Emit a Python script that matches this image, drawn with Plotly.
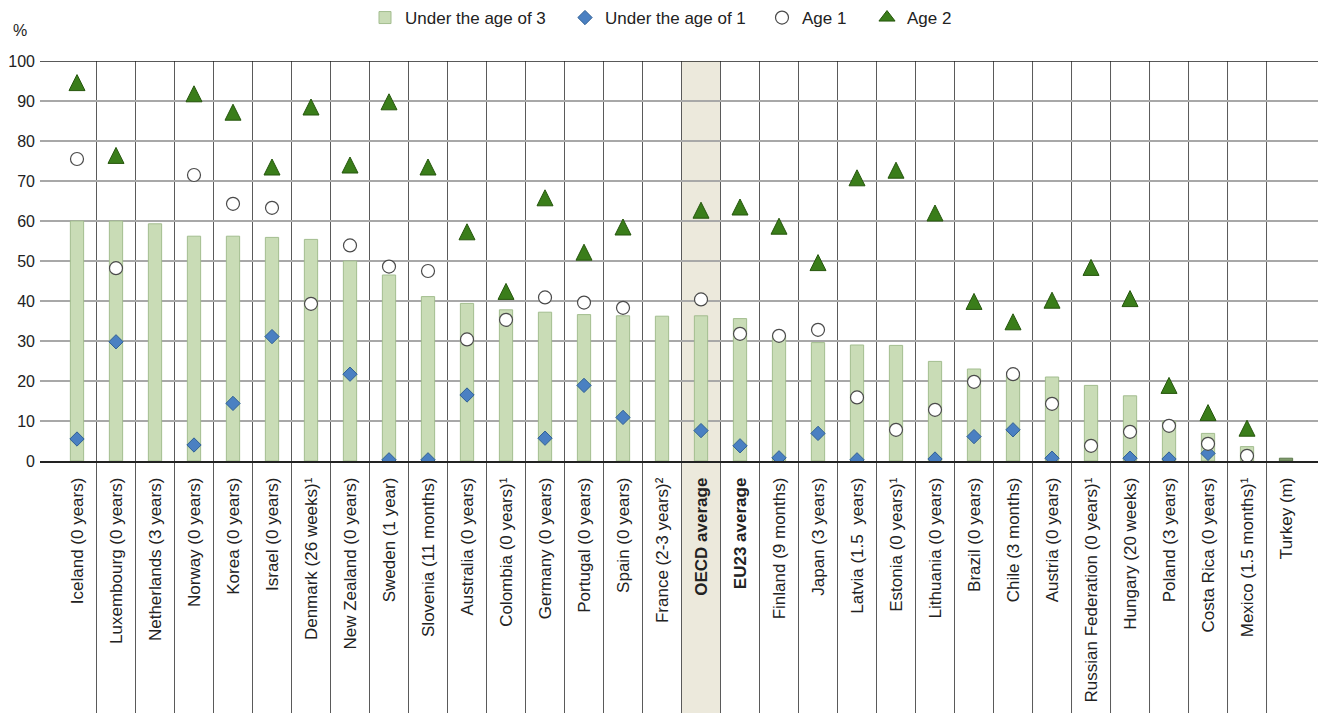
import plotly.graph_objects as go

categories = [
    "Iceland (0 years)", "Luxembourg (0 years)", "Netherlands (3 years)", "Norway (0 years)",
    "Korea (0 years)", "Israel (0 years)", "Denmark (26 weeks)¹", "New Zealand (0 years)",
    "Sweden (1 year)", "Slovenia (11 months)", "Australia (0 years)", "Colombia (0 years)¹",
    "Germany (0 years)", "Portugal (0 years)", "Spain (0 years)", "France (2-3 years)²",
    "OECD average", "EU23 average", "Finland (9 months)", "Japan (3 years)",
    "Latvia (1.5  years)", "Estonia (0 years)¹", "Lithuania (0 years)", "Brazil (0 years)",
    "Chile (3 months)", "Austria (0 years)", "Russian Federation (0 years)¹", "Hungary (20 weeks)",
    "Poland (3 years)", "Costa Rica (0 years)", "Mexico (1.5 months)¹", "Turkey (m)",
]
bold_categories = ["OECD average", "EU23 average"]

under3 = [60.0, 60.0, 59.3, 56.2, 56.2, 55.9, 55.4, 50.0, 46.5, 41.1, 39.4, 37.8, 37.2, 36.6, 36.3, 36.2,
          36.3, 35.6, 31.2, 29.6, 29.0, 28.9, 24.9, 23.0, 21.5, 21.0, 18.9, 16.3, 10.0, 6.9, 3.6, 0.7]
under1 = [5.5, 29.8, None, 4.0, 14.4, 31.1, None, 21.7, 0.3, 0.3, 16.5, None, 5.7, 18.9, 10.9, None,
          7.6, 3.8, 0.8, 6.9, 0.3, None, 0.5, 6.1, 7.8, 0.7, None, 0.7, 0.5, 1.9, None, None]
age1 = [75.5, 48.2, None, 71.5, 64.3, 63.3, 39.3, 53.9, 48.6, 47.5, 30.4, 35.3, 40.9, 39.6, 38.3, None,
        40.4, 31.8, 31.3, 32.8, 15.9, 7.8, 12.8, 19.8, 21.7, 14.3, 3.8, 7.3, 8.8, 4.3, 1.3, None]
age2 = [94.6, 76.4, None, 91.8, 87.2, 73.5, 88.5, 74.0, 89.8, 73.5, 57.3, 42.4, 65.8, 52.2, 58.5, None,
        62.7, 63.5, 58.7, 49.6, 70.8, 72.7, 62.0, 39.9, 34.8, 40.2, 48.4, 40.6, 18.9, 12.1, 8.2, None]

y_ticks = [0, 10, 20, 30, 40, 50, 60, 70, 80, 90, 100]

FONT = "Liberation Sans, Arial, sans-serif"
TXT = "#222222"

W, H = 1324, 713
ML, MR, MT, MB = 40, 6, 61, 252
PW, PH = W - ML - MR, H - MT - MB

def px_x(p):
    return (p - ML) / PW

def px_y(p):
    return (H - MB - p) / PH

tick_text = [f"<b>{c}</b>" if c in bold_categories else c for c in categories]
bar_colors = ["#7f9a6c" if c == "Turkey (m)" else "#c9dcb6" for c in categories]
bar_lines = ["#5f7a4e" if c == "Turkey (m)" else "#a3bd8f" for c in categories]

TRI_SIZE = 16
TRI_FILL, TRI_LINE = "#3a7d1a", "#25560c"
# arrow-up markers have their apex on the data point; an overlaid axis offset by half
# the marker height centres each triangle on its value
tri_offset = (TRI_SIZE / 2) * 100 / PH

fig = go.Figure()
fig.add_trace(go.Bar(
    x=categories, y=under3, name="Under the age of 3", width=0.34, legend="legend",
    marker=dict(color=bar_colors, line=dict(color=bar_lines, width=1)),
))
fig.add_trace(go.Scatter(
    x=categories, y=under1, name="Under the age of 1", mode="markers", legend="legend2",
    marker=dict(symbol="diamond", size=11, color="#4a80c2", line=dict(color="#2f5f95", width=1)),
))
fig.add_trace(go.Scatter(
    x=categories, y=age1, name="Age 1", mode="markers", legend="legend3",
    marker=dict(symbol="circle", size=13, color="white", line=dict(color="#4a4a4a", width=1.2)),
))
fig.add_trace(go.Scatter(
    x=categories, y=age2, name="Age 2", mode="markers", yaxis="y2", showlegend=False,
    marker=dict(symbol="arrow-up", size=TRI_SIZE, color=TRI_FILL, line=dict(color=TRI_LINE, width=1)),
))
# legend entry for Age 2
fig.add_trace(go.Scatter(
    x=[None], y=[None], name="Age 2", mode="markers", legend="legend4",
    marker=dict(symbol="triangle-up", size=14, color=TRI_FILL, line=dict(color=TRI_LINE, width=1)),
))

n = len(categories)
bottom_paper = -MB / PH
shapes = []
oecd_idx = categories.index("OECD average")
shapes.append(dict(type="rect", xref="x", yref="paper", x0=oecd_idx - 0.5, x1=oecd_idx + 0.5,
                   y0=bottom_paper, y1=1, fillcolor="#ece9dc", line=dict(width=0), layer="below"))
for i in range(n - 1):
    shapes.append(dict(type="line", xref="x", yref="paper", x0=i + 0.5, x1=i + 0.5,
                       y0=bottom_paper, y1=1, line=dict(color="#5a5a5a", width=1), layer="below"))
shapes.append(dict(type="line", xref="paper", yref="y", x0=0, x1=1, y0=100, y1=100,
                   line=dict(color="#222222", width=1.6), layer="above"))

legend_font = dict(family=FONT, size=17, color=TXT)
def leg(text_start_px):
    return dict(orientation="h", x=px_x(text_start_px - 38), xanchor="left",
                y=px_y(18), yanchor="middle", font=legend_font, itemwidth=30,
                bgcolor="rgba(0,0,0,0)", borderwidth=0)

fig.update_layout(
    width=W, height=H,
    margin=dict(l=ML, r=MR, t=MT, b=MB, autoexpand=False),
    paper_bgcolor="white", plot_bgcolor="white",
    font=dict(family=FONT, size=17, color=TXT),
    shapes=shapes,
    showlegend=True,
    legend=leg(403), legend2=leg(603), legend3=leg(800), legend4=leg(905),
    annotations=[dict(text="%", xref="paper", yref="paper", x=px_x(20), y=px_y(30),
                      xanchor="center", yanchor="middle", showarrow=False,
                      font=dict(family=FONT, size=16, color=TXT))],
    yaxis2=dict(overlaying="y", range=[-tri_offset, 100 - tri_offset], visible=False,
                showgrid=False, zeroline=False, automargin=False),
)
fig.update_xaxes(
    type="category", range=[-0.9487, 31.82], tickvals=categories, ticktext=tick_text,
    tickangle=-90, showgrid=False, zeroline=False, showline=True, linecolor="#222222", linewidth=1.6,
    ticks="", ticklabelstandoff=8, automargin=False, tickfont=dict(family=FONT, size=17, color=TXT),
)
fig.layout.yaxis.update(
    range=[0, 100], tickvals=y_ticks, showgrid=True, gridcolor="#a8a8a8", gridwidth=1.5,
    zeroline=False, showline=False, ticks="", ticklabelstandoff=4, automargin=False,
    tickfont=dict(family=FONT, size=16, color=TXT),
)

fig.write_html("out.html", config={"displayModeBar": False},
               post_script="document.body.style.margin='0';")
